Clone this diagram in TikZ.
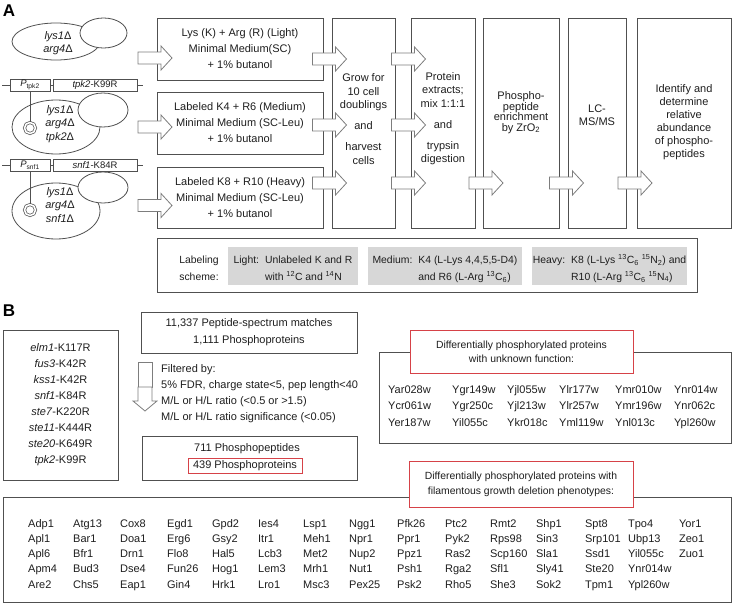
\documentclass[tikz,border=0pt]{standalone}
\usepackage{fontspec}
\setmainfont{Liberation Sans}
\usetikzlibrary{positioning}

\definecolor{linegray}{RGB}{80,80,80}
\definecolor{arrowgray}{RGB}{125,125,125}
\definecolor{schemegray}{RGB}{215,215,215}
\definecolor{titlered}{RGB}{214,66,72}
\definecolor{inkgray}{RGB}{30,30,30}

\tikzset{
  pics/blockarrow/.style={code={
    \draw[arrowline] (-17,-6) -- (6,-6) -- (6,-12) -- (17,0) -- (6,12) -- (6,6) -- (-17,6) -- cycle;
  }}
}

\begin{document}
\begin{tikzpicture}[x=1pt, y=-1pt, text=inkgray,
    font=\fontsize{11}{13.5}\selectfont,
    boxline/.style={draw=linegray, line width=0.8pt},
    arrowline/.style={draw=arrowgray, fill=white, line width=0.8pt},
    cellline/.style={draw=linegray, line width=0.8pt},
    panellabel/.style={font=\fontsize{17}{17}\selectfont\bfseries, text=black, inner sep=0pt},
    medbox/.style={boxline, minimum width=166, inner sep=0pt, align=center, font=\fontsize{11}{16}\selectfont},
    colbox/.style={boxline, minimum height=210, inner sep=0pt},
    coltext/.style={align=center, inner sep=0pt},
    celltext/.style={align=center, inner sep=0pt},
    plasbox/.style={boxline, fill=white, minimum height=12, inner sep=0pt, font=\fontsize{9.5}{10}\selectfont},
    plasmidring/.style={circle, draw=linegray, line width=0.7pt, double=white, double distance=1.6pt, minimum size=11, inner sep=0pt},
    schemebox/.style={fill=schemegray, minimum height=38, inner sep=0pt},
    schemetext/.style={inner sep=0pt, font=\fontsize{10.4}{17}\selectfont},
    redbox/.style={draw=titlered, line width=0.9pt, fill=white, inner sep=0pt, align=center},
    genegrid/.style={anchor=north west, inner sep=0pt}
  ]
  \useasboundingbox (0,0) rectangle (733,605);

  % panel A
  \node[panellabel] (labelA) at (9,11) {A};

  % light strain
  \draw[cellline] (56,41.5) ellipse (44 and 18.5);
  \draw[cellline, fill=white] (103.5,33) ellipse (23.5 and 15);
  \node[celltext] (cellL) at (58,43) {\textit{lys1}Δ\\\textit{arg4}Δ};

  % medium strain
  \draw[cellline] (2,85) -- (143,85);
  \node[plasbox, minimum width=40] (ptpk) at (30,85) {\textit{P}\textsubscript{tpk2}};
  \node[plasbox, minimum width=84] (tpkgene) at (95,85) {\textit{tpk2}-K99R};
  \draw[cellline] (56,127) ellipse (44 and 27);
  \draw[cellline, fill=white] (103,110) ellipse (25 and 17);
  \node[plasmidring] (ringtpk) at (30,128) {};
  \draw[cellline] (ptpk) -- (ringtpk);
  \node[celltext] (cellM) at (60,124) {\textit{lys1}Δ\\\textit{arg4}Δ\\\textit{tpk2}Δ};

  % heavy strain
  \draw[cellline] (2,165) -- (143,165);
  \node[plasbox, minimum width=40] (psnf) at (30,165) {\textit{P}\textsubscript{snf1}};
  \node[plasbox, minimum width=84] (snfgene) at (95,165) {\textit{snf1}-K84R};
  \draw[cellline] (56,211) ellipse (44 and 28);
  \draw[cellline, fill=white] (103,187.5) ellipse (25 and 15.5);
  \node[plasmidring] (ringsnf) at (30,210) {};
  \draw[cellline] (psnf) -- (ringsnf);
  \node[celltext] (cellH) at (60,205) {\textit{lys1}Δ\\\textit{arg4}Δ\\\textit{snf1}Δ};

  % media
  \node[medbox, minimum height=62] (lightmed) at (240,49) {Lys (K) + Arg (R) (Light)\\Minimal Medium(SC)\\+ 1\% butanol};
  \node[medbox, minimum height=62] (mediummed) at (240,123) {Labeled K4 + R6 (Medium)\\Minimal Medium (SC-Leu)\\+ 1\% butanol};
  \node[medbox, minimum height=61] (heavymed) at (240,197.5) {Labeled K8 + R10 (Heavy)\\Minimal Medium (SC-Leu)\\+ 1\% butanol};

  % workflow steps
  \node[colbox, minimum width=63] (grow) at (363.5,123) {};
  \node[colbox, minimum width=64] (extract) at (443,123) {};
  \node[colbox, minimum width=76] (enrich) at (521,123) {};
  \node[colbox, minimum width=58] (lcms) at (597,123) {};
  \node[colbox, minimum width=94] (identify) at (684,123) {};
  \node[coltext] (growtext) at (363.5,119) {Grow for\\10 cell\\doublings\\[7.5pt]and\\[7.5pt]harvest\\cells};
  \node[coltext] (extracttext) at (443,118.5) {Protein\\extracts;\\mix 1:1:1\\[7.5pt]and\\[7.5pt]trypsin\\digestion};
  \node[coltext, font=\fontsize{11}{10.6}\selectfont] (enrichtext) at (521,112.5) {Phospho-\\peptide\\enrichment\\by ZrO\textsubscript{2}};
  \node[coltext] (lcmstext) at (597,115) {LC-\\MS/MS};
  \node[coltext, font=\fontsize{11}{13}\selectfont] (identifytext) at (684,122.5) {Identify and\\determine\\relative\\abundance\\of phospho-\\peptides};

  % block arrows
  \pic (arrL1) at (155,58) {blockarrow};
  \pic (arrL2) at (155,127) {blockarrow};
  \pic (arrL3) at (155,205.5) {blockarrow};
  \pic (arrM1) at (329.5,59) {blockarrow};
  \pic (arrM2) at (329.5,125) {blockarrow};
  \pic (arrM3) at (329.5,183) {blockarrow};
  \pic (arrG1) at (408.5,59) {blockarrow};
  \pic (arrG2) at (408.5,125) {blockarrow};
  \pic (arrG3) at (408.5,183) {blockarrow};
  \pic (arrE) at (486,183) {blockarrow};
  \pic (arrZ) at (566.5,183) {blockarrow};
  \pic (arrL) at (635,183) {blockarrow};

  % labeling scheme
  \node[boxline, minimum width=540, minimum height=54, inner sep=0pt] (scheme) at (427,265) {};
  \node[schemetext, align=left] (schemelabel) at (199,268.5) {Labeling\\scheme:};
  \node[schemebox, minimum width=130] (lightbox) at (293,266) {};
  \node[schemebox, minimum width=154] (mediumbox) at (445,266) {};
  \node[schemebox, minimum width=155] (heavybox) at (609.5,266) {};
  \node[schemetext] (lighttext) at (293,268.5) {\begin{tabular}{@{}l@{\hspace{6pt}}l@{}}Light: & Unlabeled K and R\\ & with \textsuperscript{12}C and \textsuperscript{14}N\end{tabular}};
  \node[schemetext] (mediumtext) at (445,268.5) {\begin{tabular}{@{}l@{\hspace{6pt}}l@{}}Medium: & K4 (L-Lys 4,4,5,5-D4)\\ & and R6 (L-Arg \textsuperscript{13}C\textsubscript{6})\end{tabular}};
  \node[schemetext] (heavytext) at (609.5,268.5) {\begin{tabular}{@{}l@{\hspace{6pt}}l@{}}Heavy: & K8 (L-Lys \textsuperscript{13}C\textsubscript{6} \textsuperscript{15}N\textsubscript{2}) and\\ & R10 (L-Arg \textsuperscript{13}C\textsubscript{6} \textsuperscript{15}N\textsubscript{4})\end{tabular}};

  % panel B
  \node[panellabel] (labelB) at (9,311) {B};
  \node[boxline, minimum width=115, minimum height=150, inner sep=0pt, align=center, font=\fontsize{11}{16}\selectfont] (mutants) at (60.5,405) {\textit{elm1}-K117R\\\textit{fus3}-K42R\\\textit{kss1}-K42R\\\textit{snf1}-K84R\\\textit{ste7}-K220R\\\textit{ste11}-K444R\\\textit{ste20}-K649R\\\textit{tpk2}-K99R};
  \node[boxline, minimum width=216, minimum height=41, inner sep=0pt, align=center, font=\fontsize{11}{17}\selectfont] (psm) at (249,332.5) {11,337 Peptide-spectrum matches\\1,111 Phosphoproteins};

  % filter arrow
  \draw[arrowline] (138,362) rectangle (152,387);
  \draw[arrowline] (138,387) -- (152,387) -- (152,401) -- (157,401) -- (145,411) -- (133,401) -- (138,401) -- cycle;
  \node[anchor=west, align=left, inner sep=0pt, font=\fontsize{11}{16}\selectfont] (filters) at (161,394) {Filtered by:\\5\% FDR, charge state<5, pep length<40\\M/L or H/L ratio (<0.5 or >1.5)\\M/L or H/L ratio significance (<0.05)};

  \node[boxline, minimum width=215, minimum height=44, inner sep=0pt] (phosbox) at (249.5,458) {};
  \node[inner sep=0pt] (peptides) at (247,449) {711 Phosphopeptides};
  \node[redbox, minimum width=114, minimum height=15] (proteins) at (245,465.5) {439 Phosphoproteins};

  % unknown function
  \node[boxline, minimum width=352, minimum height=91, inner sep=0pt] (unknown) at (555,397.5) {};
  \node[redbox, minimum width=223, minimum height=43, font=\fontsize{10.4}{14}\selectfont] (unknowntitle) at (521.5,351.5) {Differentially phosphorylated proteins\\with unknown function:};
  \node[genegrid, font=\fontsize{11}{16.5}\selectfont] (unknowngenes) at (388,381.5) {\setlength{\tabcolsep}{0pt}\begin{tabular}{p{64pt}p{55pt}p{52pt}p{56pt}p{59pt}l}
    Yar028w & Ygr149w & Yjl055w & Ylr177w & Ymr010w & Ynr014w\\
    Ycr061w & Ygr250c & Yjl213w & Ylr257w & Ymr196w & Ynr062c\\
    Yer187w & Yil055c & Ykr018c & Yml119w & Ynl013c & Ypl260w
  \end{tabular}};

  % filamentous growth
  \node[boxline, minimum width=728, minimum height=105, inner sep=0pt] (filament) at (367,549.5) {};
  \node[redbox, minimum width=224, minimum height=46, font=\fontsize{10.4}{15}\selectfont] (filamenttitle) at (521,484) {Differentially phosphorylated proteins with\\filamentous growth deletion phenotypes:};
  \node[genegrid, font=\fontsize{11}{15.25}\selectfont] (filamentgenes) at (28,516.3) {\setlength{\tabcolsep}{0pt}\begin{tabular}{p{45pt}p{47pt}p{47pt}p{45pt}p{46pt}p{45pt}p{46pt}p{48pt}p{48pt}p{45pt}p{46pt}p{49pt}p{43pt}p{51pt}l}
    Adp1 & Atg13 & Cox8 & Egd1 & Gpd2 & Ies4 & Lsp1 & Ngg1 & Pfk26 & Ptc2 & Rmt2 & Shp1 & Spt8 & Tpo4 & Yor1\\
    Apl1 & Bar1 & Doa1 & Erg6 & Gsy2 & Itr1 & Meh1 & Npr1 & Ppr1 & Pyk2 & Rps98 & Sin3 & Srp101 & Ubp13 & Zeo1\\
    Apl6 & Bfr1 & Drn1 & Flo8 & Hal5 & Lcb3 & Met2 & Nup2 & Ppz1 & Ras2 & Scp160 & Sla1 & Ssd1 & Yil055c & Zuo1\\
    Apm4 & Bud3 & Dse4 & Fun26 & Hog1 & Lem3 & Mrh1 & Nut1 & Psh1 & Rga2 & Sfl1 & Sly41 & Ste20 & Ynr014w & \\
    Are2 & Chs5 & Eap1 & Gin4 & Hrk1 & Lro1 & Msc3 & Pex25 & Psk2 & Rho5 & She3 & Sok2 & Tpm1 & Ypl260w &
  \end{tabular}};
\end{tikzpicture}
\end{document}
